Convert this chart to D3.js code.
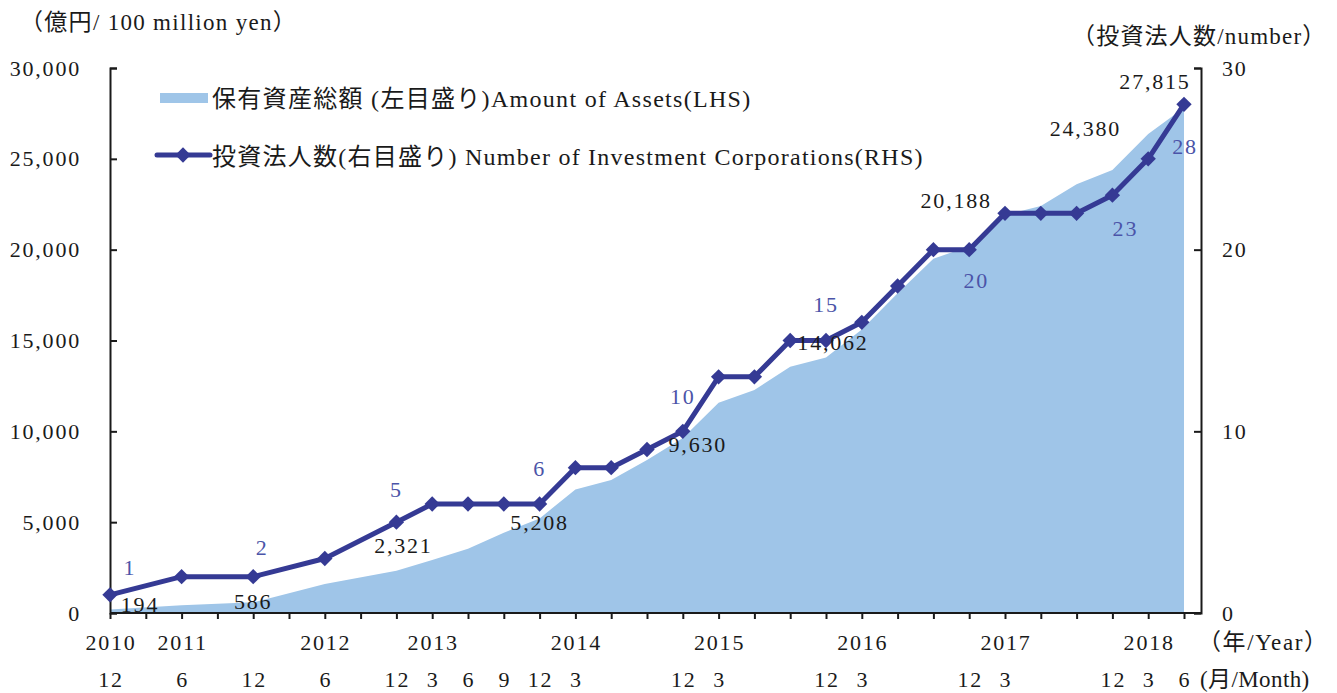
<!DOCTYPE html>
<html>
<head>
<meta charset="utf-8">
<script src="https://cdn.jsdelivr.net/npm/d3@7"></script>
<style>
  body { margin: 0; background: #fff; }
  svg text { font-family: "Liberation Serif", "Noto Sans CJK JP", serif; fill: #1a1a1a; }
</style>
</head>
<body>
<script>
// data
const periods = ["2010/12","2011/6","2011/12","2012/6","2012/12","2013/3","2013/6","2013/9","2013/12",
  "2014/3","2014/6","2014/9","2014/12","2015/3","2015/6","2015/9","2015/12",
  "2016/3","2016/6","2016/9","2016/12","2017/3","2017/6","2017/9","2017/12","2018/3","2018/6"]
const yearLabels = ["2010","2011","","2012","","2013","","","","2014","","","","2015","","","",
  "2016","","","","2017","","","","2018",""]
const monthLabels = ["12","6","12","6","12","3","6","9","12","3","","","12","3","","","12",
  "3","","","12","3","","","12","3","6"]
const assets = [194, 424, 586, 1596, 2321, 2920, 3530, 4420, 5208, 6800, 7320, 8420, 9630,
  11580, 12280, 13560, 14062, 15600, 17600, 19500, 20188, 21900, 22400, 23600, 24380, 26370, 27815]
const corps = [1, 2, 2, 3, 5, 6, 6, 6, 6, 8, 8, 9, 10, 13, 13, 15, 15, 16, 18, 20, 20, 22, 22, 22, 23, 25, 28]
const leftTicks = [0, 5000, 10000, 15000, 20000, 25000, 30000]
const rightTicks = [0, 10, 20, 30]

const W = 1337, H = 693
const plot = {left: 110, right: 1184, top: 68, bottom: 613}
const areaColor = "#9fc5e8", lineColor = "#353a94", numColor = "#4b54a8"

// quarter index since first period
const q = p => { const [y, m] = p.split("/").map(Number); return (y * 12 + m - (2010 * 12 + 12)) / 3 }
const qs = periods.map(q)

const svg = d3.select("body").append("svg").attr("width", W).attr("height", H)

const x = d3.scaleLinear().domain([0, d3.max(qs)]).range([plot.left, plot.right])
const yL = d3.scaleLinear().domain([0, 30000]).range([plot.bottom, plot.top])
const yR = d3.scaleLinear().domain([0, 30]).range([plot.bottom, plot.top])
const axisRightX = plot.right + 17

// area
svg.append("path")
  .datum(assets)
  .attr("fill", areaColor)
  .attr("d", d3.area().x((d, i) => x(qs[i])).y0(yL(0)).y1(d => yL(d)))

// axes
const axisStyle = g => {
  g.selectAll("path, line").attr("stroke", "#1a1a1a").attr("stroke-width", 2)
  g.selectAll("text").remove()
}
svg.append("g").attr("transform", `translate(${plot.left},0)`)
  .call(d3.axisRight(yL).tickValues(leftTicks).tickSize(7).tickSizeOuter(7))
  .call(axisStyle)
svg.append("g").attr("transform", `translate(${axisRightX},0)`)
  .call(d3.axisLeft(yR).tickValues(rightTicks).tickSize(7).tickSizeOuter(7))
  .call(axisStyle)
svg.append("g").attr("transform", `translate(0,${plot.bottom})`)
  .call(d3.axisBottom(x).tickValues(d3.range(0, d3.max(qs) + 1)).tickSize(6).tickSizeOuter(0))
  .call(axisStyle)
  .call(g => g.select(".domain").attr("d", `M${plot.left},0H${axisRightX}`))

// tick labels
const lbl = (sel, size) => sel.attr("font-size", size).attr("letter-spacing", 1.8).attr("dominant-baseline", "central")
svg.append("g").selectAll("text").data(leftTicks).join("text")
  .attr("x", 81).attr("y", d => yL(d)).attr("text-anchor", "end")
  .call(lbl, 22).text(d => d3.format(",")(d))
svg.append("g").selectAll("text").data(rightTicks).join("text")
  .attr("x", 1222).attr("y", d => yR(d)).attr("text-anchor", "start")
  .call(lbl, 22).text(d => d)
svg.append("g").selectAll("text").data(yearLabels).join("text")
  .attr("x", (d, i) => x(qs[i]) + 1).attr("y", 642).attr("text-anchor", "middle")
  .call(lbl, 22).text(d => d)
svg.append("g").selectAll("text").data(monthLabels).join("text")
  .attr("x", (d, i) => x(qs[i]) + 1).attr("y", 679).attr("text-anchor", "middle")
  .call(lbl, 22).text(d => d)
svg.append("text").attr("x", 1198).attr("y", 642).call(lbl, 23).attr("letter-spacing", 1.6).text("（年/Year）")
svg.append("text").attr("x", 1200).attr("y", 679).call(lbl, 23).attr("letter-spacing", 0.4).text("(月/Month)")
svg.append("text").attr("x", 20).attr("y", 22).call(lbl, 23).attr("letter-spacing", 1.3).text("（億円/ 100 million yen）")
svg.append("text").attr("x", 1072).attr("y", 36).call(lbl, 23).attr("letter-spacing", 1.2).text("（投資法人数/number）")

// line + markers
svg.append("path")
  .datum(corps)
  .attr("fill", "none").attr("stroke", lineColor).attr("stroke-width", 5).attr("stroke-linejoin", "round")
  .attr("d", d3.line().x((d, i) => x(qs[i])).y(d => yR(d)))
const diamond = d3.symbol().type(d3.symbolDiamond2).size(150)
svg.append("g").selectAll("path").data(corps).join("path")
  .attr("transform", (d, i) => `translate(${x(qs[i])},${yR(d)})`)
  .attr("fill", lineColor).attr("d", diamond)

// data labels (index -> pixel offset)
const numOffsets = {0: [20, -27], 2: [9, -29], 4: [0, -33], 8: [0, -36], 12: [0, -35], 16: [0, -36], 20: [7, 31], 24: [13, 33], 26: [1, 42]}
const assetOffsets = {0: [30, -5], 2: [0, -1], 4: [7, -25], 8: [0, 4], 12: [15, 6], 16: [7, -15], 20: [-13, -46], 24: [-27, -42], 26: [-29, -26]}
svg.append("g").selectAll("text").data(Object.keys(numOffsets).map(Number)).join("text")
  .attr("x", i => x(qs[i]) + numOffsets[i][0]).attr("y", i => yR(corps[i]) + numOffsets[i][1])
  .attr("text-anchor", "middle").call(lbl, 22).style("fill", numColor)
  .text(i => corps[i])
svg.append("g").selectAll("text").data(Object.keys(assetOffsets).map(Number)).join("text")
  .attr("x", i => x(qs[i]) + assetOffsets[i][0]).attr("y", i => yL(assets[i]) + assetOffsets[i][1])
  .attr("text-anchor", "middle").call(lbl, 22)
  .text(i => d3.format(",")(assets[i]))

// legend
const lg = svg.append("g")
lg.append("rect").attr("x", 160).attr("y", 93).attr("width", 48).attr("height", 10).attr("fill", areaColor)
lg.append("text").attr("x", 212).attr("y", 99).call(lbl, 24).attr("letter-spacing", 1.3)
  .text("保有資産総額 (左目盛り)Amount of Assets(LHS)")
lg.append("line").attr("x1", 157).attr("x2", 210).attr("y1", 155).attr("y2", 155)
  .attr("stroke", lineColor).attr("stroke-width", 5).attr("stroke-linecap", "round")
lg.append("path").attr("transform", "translate(183,155)").attr("fill", lineColor).attr("d", diamond)
lg.append("text").attr("x", 212).attr("y", 157).call(lbl, 24).attr("letter-spacing", 1.25)
  .text("投資法人数(右目盛り) Number of Investment Corporations(RHS)")
</script>
</body>
</html>
